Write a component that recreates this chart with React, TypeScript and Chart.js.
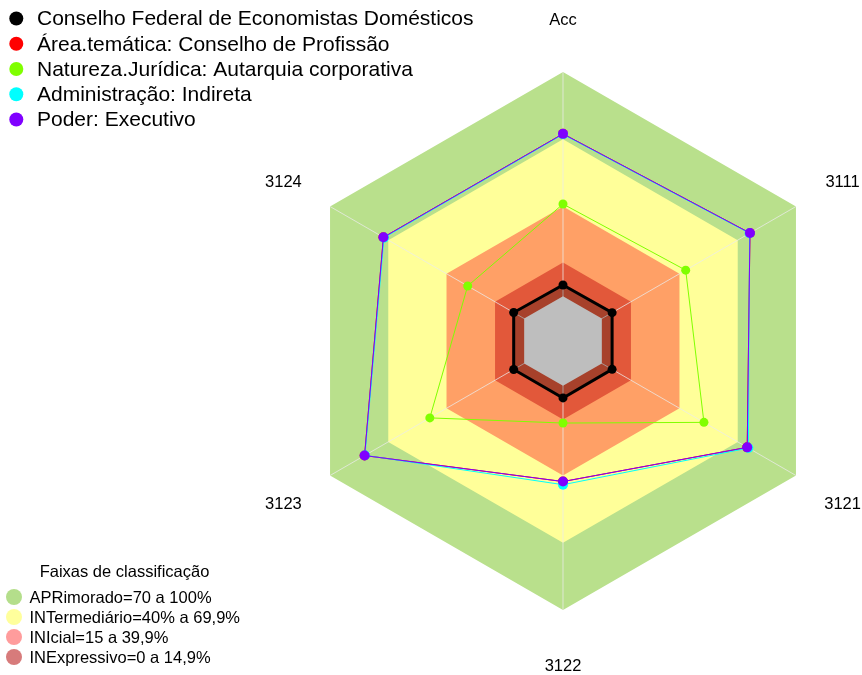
import React, { useEffect, useRef } from "react";
import { Chart, registerables } from "chart.js";

Chart.register(...registerables);

// ---- data ----
const categories = ["Acc", "3111", "3121", "3122", "3123", "3124"];

const seriesNames = [
  "Conselho Federal de Economistas Domésticos",
  "Área.temática: Conselho de Profissão",
  "Natureza.Jurídica: Autarquia corporativa",
  "Administração: Indireta",
  "Poder: Executivo",
];
const conselhoValues = [5.0, 5.3, 5.3, 5.4, 5.4, 5.4];
const areaTematicaValues = [72.4, 76.3, 74.9, 42.7, 82.2, 72.5];
const naturezaValues = [41.1, 43.2, 52.6, 16.6, 48.6, 29.1];
const administracaoValues = [72.2, 76.1, 75.5, 44.1, 82.0, 72.2];
const poderValues = [72.4, 76.3, 74.9, 42.7, 82.2, 72.5];
const seriesColors = ["#000000", "#FF0000", "#80FF00", "#00FFFF", "#8000FF"];

const bandTitle = "Faixas de classificação";
const bandNames = [
  "APRimorado=70 a 100%",
  "INTermediário=40% a 69,9%",
  "INIcial=15 a 39,9%",
  "INExpressivo=0 a 14,9%",
];
const bandUpper = [100, 70, 40, 15];
const bandFill = ["#B9E08C", "#FFFF99", "#FFA066", "#E2583A"];
const bandLegendColors = ["#B4DE8B", "#FFFF9C", "#FF9C9C", "#D77B7B"];

const scaleMin = -20;
const scaleMax = 100;
const centerValue = 0;

export default function App() {
  const canvasRef = useRef<HTMLCanvasElement | null>(null);

  useEffect(() => {
    const canvas = canvasRef.current;
    if (!canvas) return;
    const n = categories.length;
    const seriesValues = [
      conselhoValues,
      areaTematicaValues,
      naturezaValues,
      administracaoValues,
      poderValues,
    ];
    const seriesOrder = [16, 5, 4, 3, 2];
    const seriesWidth = [3, 1, 1, 1, 1];
    const seriesRadius = [4.5, 5, 4.5, 5, 5];

    const datasets: any[] = [];
    seriesValues.forEach((vals, i) => {
      datasets.push({
        label: seriesNames[i],
        data: vals,
        borderColor: seriesColors[i],
        backgroundColor: i === 0 ? "rgba(0,0,0,0.26)" : "rgba(0,0,0,0)",
        fill: i === 0 ? "start" : false,
        borderWidth: seriesWidth[i],
        pointRadius: seriesRadius[i],
        pointBorderWidth: 0,
        pointBackgroundColor: seriesColors[i],
        pointBorderColor: seriesColors[i],
        order: seriesOrder[i],
      });
    });
    // gray centre (below zero)
    datasets.push({
      label: "centro",
      data: categories.map(() => centerValue),
      borderWidth: 0,
      borderColor: "rgba(0,0,0,0)",
      backgroundColor: "#BEBEBE",
      fill: "start",
      pointRadius: 0,
      order: 15,
    });
    const bandStartIndex = datasets.length;
    bandUpper.forEach((u, i) => {
      datasets.push({
        label: bandNames[i],
        data: categories.map(() => u),
        borderWidth: 0,
        borderColor: "rgba(0,0,0,0)",
        backgroundColor: bandFill[i],
        fill: "start",
        pointRadius: 0,
        order: 20 - i,
      });
    });
    const lastBandIndex = bandStartIndex + bandUpper.length - 1;

    const spokesPlugin = {
      id: "spokes",
      afterDatasetDraw(chart: any, args: any) {
        if (args.index !== lastBandIndex) return;
        const scale = chart.scales.r;
        const ctx = chart.ctx;
        ctx.save();
        ctx.strokeStyle = "rgba(235,235,235,0.75)";
        ctx.lineWidth = 1;
        const c = scale.getPointPositionForValue(0, scaleMin);
        for (let i = 0; i < n; i++) {
          const p = scale.getPointPositionForValue(i, scaleMax);
          ctx.beginPath();
          ctx.moveTo(c.x, c.y);
          ctx.lineTo(p.x, p.y);
          ctx.stroke();
        }
        ctx.restore();
      },
    };

    const textPlugin = {
      id: "texts",
      afterDraw(chart: any) {
        const scale = chart.scales.r;
        const ctx = chart.ctx;
        ctx.save();
        // axis labels
        ctx.fillStyle = "#000";
        ctx.font = '16.5px "Liberation Sans", Arial, sans-serif';
        ctx.textAlign = "center";
        ctx.textBaseline = "middle";
        const dist = scale.drawingArea * 1.2;
        (chart.data.labels as string[]).forEach((lab, i) => {
          const p = scale.getPointPosition(i, dist);
          ctx.fillText(lab, p.x, p.y + 2.5);
        });
        // series legend (top-left)
        ctx.textAlign = "left";
        ctx.font = '21px "Liberation Sans", Arial, sans-serif';
        seriesNames.forEach((name, i) => {
          const y = 18.5 + i * 25.25;
          ctx.beginPath();
          ctx.arc(16.3, y, 7, 0, Math.PI * 2);
          ctx.fillStyle = seriesColors[i];
          ctx.fill();
          ctx.fillStyle = "#000";
          ctx.fillText(name, 37, y + 1);
        });
        // bands legend (bottom-left)
        ctx.font = '16.5px "Liberation Sans", Arial, sans-serif';
        ctx.textAlign = "center";
        ctx.fillStyle = "#000";
        ctx.fillText(bandTitle, 124.5, 572);
        ctx.textAlign = "left";
        bandNames.forEach((name, i) => {
          const y = 597 + i * 20;
          ctx.beginPath();
          ctx.arc(14, y, 8, 0, Math.PI * 2);
          ctx.fillStyle = bandLegendColors[i];
          ctx.fill();
          ctx.fillStyle = "#000";
          ctx.fillText(name, 29.5, y + 1);
        });
        ctx.restore();
      },
    };

    const chart = new Chart(canvas, {
      type: "radar",
      data: { labels: categories, datasets },
      options: {
        animation: false,
        responsive: false,
        events: [],
        layout: { padding: { left: 294, right: 30, top: 72, bottom: 65 } },
        plugins: {
          legend: { display: false },
          tooltip: { enabled: false },
          filler: { propagate: false },
        },
        elements: { line: { tension: 0 } },
        scales: {
          r: {
            min: scaleMin,
            max: scaleMax,
            startAngle: 0,
            ticks: { display: false },
            grid: { display: false },
            angleLines: { display: false },
            pointLabels: { display: false },
          },
        },
      },
      plugins: [spokesPlugin, textPlugin],
    });
    return () => chart.destroy();
  }, []);

  return (
    <div style={{ position: "fixed", left: 0, top: 0, width: 862, height: 675, background: "#fff" }}>
      <canvas ref={canvasRef} width={862} height={675} style={{ display: "block" }} />
    </div>
  );
}
